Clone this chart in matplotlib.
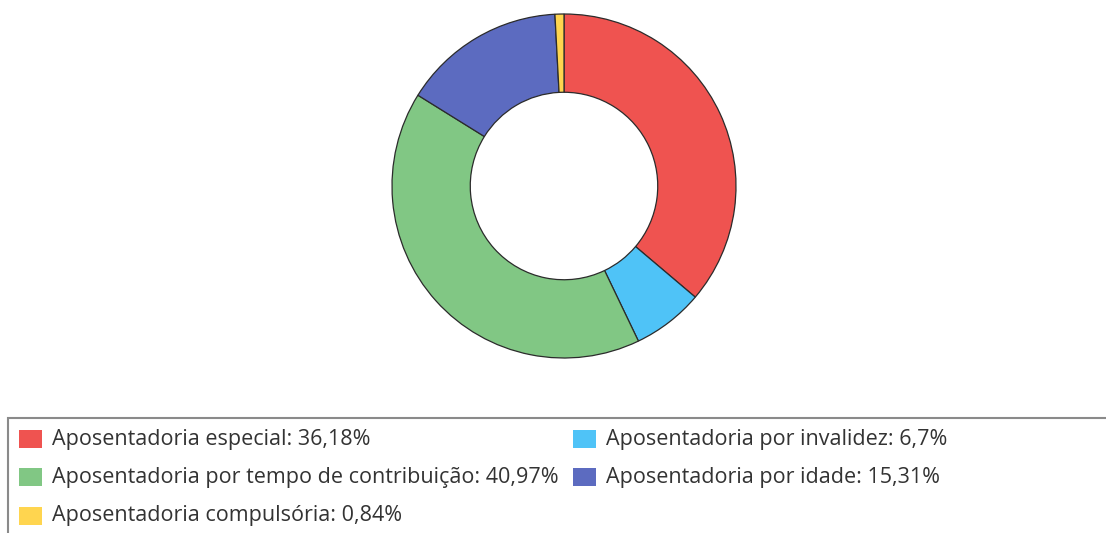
import matplotlib
matplotlib.use("Agg")
import matplotlib.pyplot as plt
from matplotlib.patches import Rectangle

categories = ["Aposentadoria especial", "Aposentadoria por invalidez",
              "Aposentadoria por tempo de contribuição", "Aposentadoria por idade",
              "Aposentadoria compulsória"]
values = [36.18, 6.7, 40.97, 15.31, 0.84]
colors = ["#EF5350", "#4FC3F7", "#81C784", "#5C6BC0", "#FFD54F"]

W, H = 1106, 533
fig = plt.figure(figsize=(W / 100, H / 100), dpi=100)

# Donut
cx, cy, r = 564, 186, 172
ax = fig.add_axes([(cx - r) / W, (H - cy - r) / H, 2 * r / W, 2 * r / H])
ax.pie(values, colors=colors, startangle=90, counterclock=False, radius=1,
       wedgeprops=dict(width=0.455, edgecolor="#2b2b2b", linewidth=0.9))
ax.set_xlim(-1, 1)
ax.set_ylim(-1, 1)
ax.set_aspect("equal")
ax.axis("off")

# Legend box
fig.patches.append(Rectangle((8 / W, -0.1), 1.2, (H - 418) / H + 0.1,
                             transform=fig.transFigure, fill=False,
                             edgecolor="#8a8a8a", linewidth=1.5))

col_x = [19, 573]
row_y = [439, 477, 516]
for i, (name, v, c) in enumerate(zip(categories, values, colors)):
    row, col = i // 2, i % 2
    x0 = col_x[col]
    y0 = row_y[row]
    fig.patches.append(Rectangle((x0 / W, (H - y0 - 9) / H), 23 / W, 18 / H,
                                 transform=fig.transFigure, facecolor=c,
                                 edgecolor="none"))
    label = f"{name}: {v:g}".replace(".", ",") + "%"
    fig.text((x0 + 33) / W, (H - y0) / H, label, fontsize=15.5,
             family="Open Sans", color="#333333", va="center", ha="left")

fig.savefig("out.png", dpi=100)
